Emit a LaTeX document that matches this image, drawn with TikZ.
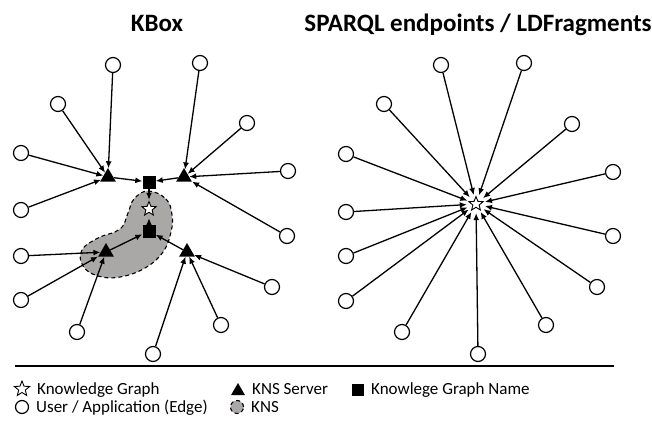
\documentclass[tikz,border=0pt]{standalone}
\usepackage{fontspec}
\setmainfont{Carlito}
\usetikzlibrary{arrows.meta,shapes.geometric}
\definecolor{knsgray}{RGB}{170,167,167}
\begin{document}
\begin{tikzpicture}[x=1pt,y=-1pt,
 user/.style={circle,draw,line width=1.2pt,fill=white,minimum size=15pt,inner sep=0pt},
 server/.style={regular polygon,regular polygon sides=3,fill=black,minimum size=18pt,inner sep=0pt},
 kgname/.style={rectangle,fill=black,minimum size=13pt,inner sep=0pt},
 kg/.style={star,star points=5,star point ratio=2.3,draw,line width=0.9pt,fill=white,minimum size=15pt,inner sep=0pt},
 hub/.style={circle,minimum size=18pt,inner sep=0pt},
 conn/.style={line width=1.3pt,-{Latex[length=7pt,width=6pt]}},
 title/.style={font=\bfseries\fontsize{25}{25}\selectfont, anchor=base, inner sep=0pt},
 legend/.style={font=\fontsize{17}{17}\selectfont, anchor=base west, inner sep=0pt},
 kns/.style={fill=knsgray,draw,line width=1.1pt,dash pattern=on 4pt off 3pt},
]
\useasboundingbox (0,0) rectangle (652,422);

% titles
\node[title] (t1) at (157,32) {KBox};
\node[title] (t2) at (478,32) {SPARQL endpoints / LDFragments};

% KNS blob
\draw[kns] plot[smooth cycle, tension=0.7] coordinates {(148,191) (166,199) (172,215) (171,232) (163,252) (145,268) (120,277) (98,276) (83,266) (82,250) (98,238) (120,229) (128,213) (134,199)};

% left graph
\node[kg] (kgL) at (149,209) {};
\node[hub] (hubL) at (149,209) {};
\node[kgname] (s1) at (149,182) {};
\node[kgname] (s2) at (149,231) {};
\node[server] (t1s) at (108,177) {};
\node[server] (t2s) at (184,177) {};
\node[server] (t3s) at (106,252) {};
\node[server] (t4s) at (187,252) {};

\foreach \i/\x/\y in {1/113/65, 2/200/63, 3/58/104, 4/247/123, 5/21/153, 6/288/171, 7/21/210, 8/287/236, 9/21/256, 10/272/287, 11/21/300, 12/77/332, 13/221/325, 14/153/354}{
  \node[user] (l\i) at (\x,\y) {};
}
\foreach \i in {1,3,5,7}{ \draw[conn] (l\i) -- (t1s); }
\foreach \i in {2,4,6,8}{ \draw[conn] (l\i) -- (t2s); }
\foreach \i in {9,11,12}{ \draw[conn] (l\i) -- (t3s); }
\foreach \i in {10,13,14}{ \draw[conn] (l\i) -- (t4s); }
\draw[conn] (t1s) -- (s1);
\draw[conn] (t2s) -- (s1);
\draw[conn] (t3s) -- (s2);
\draw[conn] (t4s) -- (s2);
\draw[conn] (s1) -- (hubL);
\draw[conn] (s2) -- (hubL);

% right graph
\node[kg] (kgR) at (476,204) {};
\node[hub] (hubR) at (476,204) {};
\foreach \i/\x/\y in {1/441/65, 2/524/63, 3/384/104, 4/572/124, 5/346/154, 6/613/172, 7/346/212, 8/613/236, 9/346/256, 10/597/287, 11/346/301, 12/402/332, 13/546/325, 14/478/354}{
  \node[user] (r\i) at (\x,\y) {};
  \draw[conn] (r\i) -- (hubR);
}

% separator
\draw[line width=1.3pt] (15,366) -- (614,366);

% legend
\node[kg, minimum size=16pt] (lgkg) at (22,389) {};
\node[legend] (lgkgt) at (37,394) {Knowledge Graph};
\node[server, minimum size=16pt] (lgsrv) at (238,391) {};
\node[legend] (lgsrvt) at (252,394) {KNS Server};
\node[kgname, minimum size=12pt] (lgname) at (358,390) {};
\node[legend] (lgnamet) at (371,394) {Knowlege Graph Name};
\node[user, minimum size=13pt] (lguser) at (22,407) {};
\node[legend] (lgusert) at (36,412) {User / Application (Edge)};
\node[circle, kns, minimum size=13pt, inner sep=0pt] (lgkns) at (237,407) {};
\node[legend] (lgknst) at (251,412) {KNS};
\end{tikzpicture}
\end{document}
